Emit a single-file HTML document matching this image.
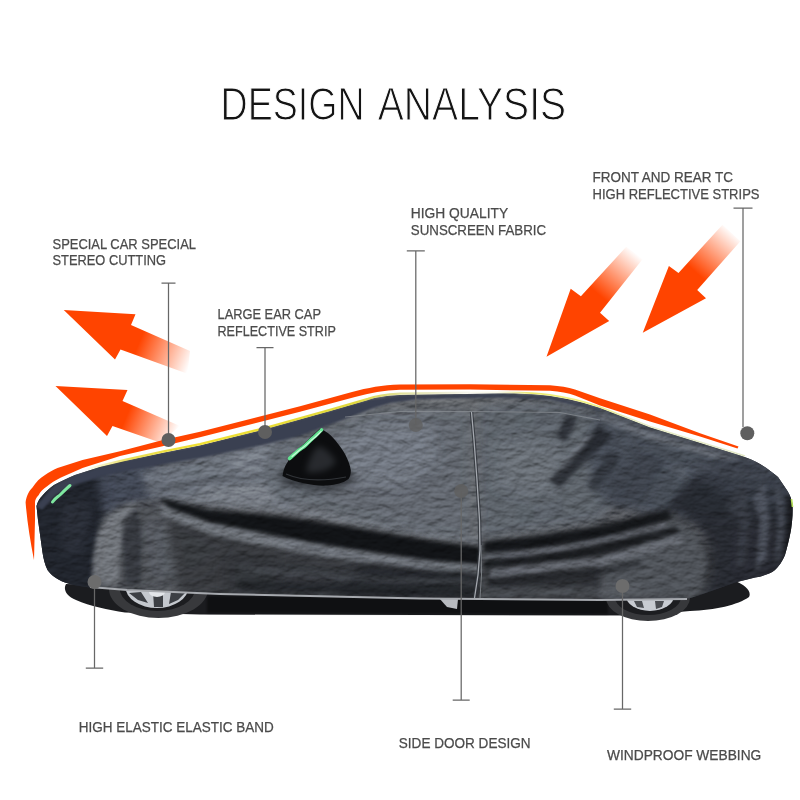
<!DOCTYPE html>
<html lang="en"><head><meta charset="utf-8"><title>Design Analysis</title>
<style>
html,body{margin:0;padding:0;background:#fff;}
body{width:800px;height:800px;overflow:hidden;font-family:"Liberation Sans",sans-serif;}
svg{display:block;}
text{font-family:"Liberation Sans",sans-serif;}
</style></head><body>
<svg width="800" height="800" viewBox="0 0 800 800">
<defs>
<filter id="ident" filterUnits="userSpaceOnUse" x="200" y="70" width="400" height="70"><feOffset dx="0" dy="0"/></filter>
<clipPath id="carclip"><path d="M36.5,506 C38,501 40,498 42.5,495.5 C46,491 50,488 54,485 C61,481 68,478 75,475 L100,467 L125,461 L162.5,453 L200,445.5 L262,430 L330,411 L368,400 C375,397.5 385,396 400,395 L500,393.5 C520,393.5 535,394 550,396 C570,399 585,403 600,408 L650,427.5 L700,443 L740,455.5 C748,458 755,461 760,464 C766,467.5 772,472 778,477 L787.5,491 C790,495 792,500 792.5,505 C793,515 792,522 791,530 C789,540 787,548 785,555 C782,562 779,566 775,570 C770,574 763,576 755,577.5 L735,582.5 L700,595 L687,599 L600,600 L420,598.5 L220,594 L127,590 L90,587.5 C80,586 72,585 65,582.5 C56,579 51,575 47.5,570 C45,565 43.5,559 42.5,552.5 L38,520 Z"/></clipPath>
<filter id="b07" filterUnits="userSpaceOnUse" x="0" y="350" width="800" height="300" color-interpolation-filters="sRGB"><feGaussianBlur stdDeviation="0.7"/></filter>
<filter id="b1" filterUnits="userSpaceOnUse" x="0" y="350" width="800" height="300" color-interpolation-filters="sRGB"><feGaussianBlur stdDeviation="1"/></filter>
<filter id="b2" filterUnits="userSpaceOnUse" x="0" y="350" width="800" height="300" color-interpolation-filters="sRGB"><feGaussianBlur stdDeviation="2"/></filter>
<filter id="b3" filterUnits="userSpaceOnUse" x="0" y="350" width="800" height="300" color-interpolation-filters="sRGB"><feGaussianBlur stdDeviation="3"/></filter>
<filter id="b4" filterUnits="userSpaceOnUse" x="0" y="350" width="800" height="300" color-interpolation-filters="sRGB"><feGaussianBlur stdDeviation="4"/></filter>
<filter id="b6" filterUnits="userSpaceOnUse" x="0" y="350" width="800" height="300" color-interpolation-filters="sRGB"><feGaussianBlur stdDeviation="6"/></filter>
<filter id="b10" filterUnits="userSpaceOnUse" x="0" y="350" width="800" height="300" color-interpolation-filters="sRGB"><feGaussianBlur stdDeviation="10"/></filter>
<filter id="crinkle" filterUnits="userSpaceOnUse" x="30" y="385" width="770" height="220" color-interpolation-filters="sRGB">
<feTurbulence type="fractalNoise" baseFrequency="0.08 0.14" numOctaves="3" seed="7" result="n"/>
<feDiffuseLighting in="n" surfaceScale="1.2" diffuseConstant="1" lighting-color="#ffffff" result="l"><feDistantLight azimuth="250" elevation="60"/></feDiffuseLighting>
<feColorMatrix in="l" type="matrix" values="1.6 0 0 0 -0.87  0 1.6 0 0 -0.87  0 0 1.6 0 -0.87  0 0 0 1 0"/>
</filter>
<linearGradient id="yel" x1="85" y1="0" x2="470" y2="0" gradientUnits="userSpaceOnUse">
<stop offset="0" stop-color="#d9cc2a" stop-opacity="0"/><stop offset="0.12" stop-color="#e3d52a" stop-opacity="0.8"/><stop offset="0.3" stop-color="#f0e030"/><stop offset="0.7" stop-color="#e0d83c"/><stop offset="0.84" stop-color="#c8c850" stop-opacity="0.5"/><stop offset="1" stop-color="#b0b060" stop-opacity="0.1"/></linearGradient>
<linearGradient id="yel2" x1="470" y1="0" x2="750" y2="0" gradientUnits="userSpaceOnUse">
<stop offset="0" stop-color="#d0cc60" stop-opacity="0.1"/><stop offset="0.1" stop-color="#d0cc60" stop-opacity="0.15"/><stop offset="0.22" stop-color="#e9e860" stop-opacity="0.9"/><stop offset="0.45" stop-color="#eef07a" stop-opacity="0.9"/><stop offset="0.6" stop-color="#c8d070" stop-opacity="0.4"/><stop offset="1" stop-color="#b0c060" stop-opacity="0.35"/></linearGradient>
<linearGradient id="a1" x1="64" y1="310" x2="199" y2="366" gradientUnits="userSpaceOnUse"><stop offset="0" stop-color="#ff4400"/><stop offset="0.56" stop-color="#ff4400"/><stop offset="0.94" stop-color="#ff4400" stop-opacity="0"/><stop offset="1" stop-color="#ff4400" stop-opacity="0"/></linearGradient>
<linearGradient id="a2" x1="55" y1="386" x2="183" y2="439" gradientUnits="userSpaceOnUse"><stop offset="0" stop-color="#ff4400"/><stop offset="0.56" stop-color="#ff4400"/><stop offset="0.94" stop-color="#ff4400" stop-opacity="0"/><stop offset="1" stop-color="#ff4400" stop-opacity="0"/></linearGradient>
<linearGradient id="a3" x1="546" y1="357" x2="641" y2="246" gradientUnits="userSpaceOnUse"><stop offset="0" stop-color="#ff4400"/><stop offset="0.56" stop-color="#ff4400"/><stop offset="0.94" stop-color="#ff4400" stop-opacity="0"/><stop offset="1" stop-color="#ff4400" stop-opacity="0"/></linearGradient>
<linearGradient id="a4" x1="643" y1="333" x2="739" y2="226" gradientUnits="userSpaceOnUse"><stop offset="0" stop-color="#ff4400"/><stop offset="0.56" stop-color="#ff4400"/><stop offset="0.94" stop-color="#ff4400" stop-opacity="0"/><stop offset="1" stop-color="#ff4400" stop-opacity="0"/></linearGradient>
<linearGradient id="body" x1="37" y1="0" x2="793" y2="0" gradientUnits="userSpaceOnUse">
 <stop offset="0" stop-color="#1c2028"/>
 <stop offset="0.15" stop-color="#2b3038"/>
 <stop offset="0.3" stop-color="#4a4e55"/>
 <stop offset="0.6" stop-color="#53585f"/>
 <stop offset="0.75" stop-color="#363a42"/>
 <stop offset="0.85" stop-color="#2a2e38"/>
 <stop offset="1" stop-color="#1d2027"/>
</linearGradient>
</defs>
<rect width="800" height="800" fill="#fff"/>
<g fill="#141414" stroke="#fff" stroke-width="1.1" style="paint-order:fill stroke" filter="url(#ident)"><text x="220.6" y="119.7" font-size="46" textLength="144" lengthAdjust="spacingAndGlyphs">DESIGN</text><text x="377.8" y="119.7" font-size="46" textLength="188.3" lengthAdjust="spacingAndGlyphs">ANALYSIS</text></g>
<path fill="url(#a1)" d="M63.75,310 L135.5,314.25 L131,325 L190,351 L187.5,373.75 L120.5,349.5 L115,359.5 Z"/>
<path fill="url(#a2)" d="M55.5,386 L127.5,390 L122.5,401 L180,426 L160,442.5 L112.5,426 L107,436 Z"/>
<path fill="url(#a3)" d="M546.5,356.75 L570.7,288.8 L580.9,296.25 L626.25,246.75 L642.75,259 L600,312.75 L609.2,321 Z"/>
<path fill="url(#a4)" d="M642.75,332.8 L668.9,266 L678.5,272.9 L722.5,224.75 L740.4,241.25 L697.2,290 L706,298.2 Z"/>
<g>
<path d="M66,584 C63,589 66,596 76,600 C90,606 108,610 125,612.5 L200,614.5 L420,615 L640,615.5 L690,611 C715,610 738,605 749,597 C752,591 745,585 735,581 L700,590 L100,585 Z" fill="#1b1c1f" filter="url(#b07)"/>
<path d="M207,596 L420,598 L608,600 L608,614 L420,613.5 L207,613 Z" fill="#0f1012" filter="url(#b1)"/>
<ellipse cx="158.5" cy="589" rx="49.5" ry="29" fill="#38393c"/>
<ellipse cx="157.5" cy="588" rx="38" ry="23" fill="#1c1d20"/>
<ellipse cx="157" cy="587" rx="31.5" ry="21" fill="#c4c8ce"/>
<path d="M129,593 L141,592 L148,603 L138,600 Z M153,592 L163,592 L163,607 L154,607 Z M171,592 L185,593 L178,600 L169,604 Z" fill="#3c3f44"/>
<ellipse cx="157" cy="592" rx="8" ry="5" fill="#e2e5e9"/>
<ellipse cx="648" cy="598" rx="42" ry="23" fill="#37383b"/>
<ellipse cx="648" cy="597" rx="33" ry="18" fill="#1c1d20"/>
<ellipse cx="650" cy="596" rx="24" ry="15" fill="#c8ccd2"/>
<path d="M634,601 L642,601 L644,608 L637,607 Z M655,601 L664,601 L662,607 L656,609 Z" fill="#4a4d52"/>
<path d="M439,598 L458,599 L457,609 L447,607 Z" fill="#b8bbc0"/>
</g>
<path d="M36.5,506 C38,501 40,498 42.5,495.5 C46,491 50,488 54,485 C61,481 68,478 75,475 L100,467 L125,461 L162.5,453 L200,445.5 L262,430 L330,411 L368,400 C375,397.5 385,396 400,395 L500,393.5 C520,393.5 535,394 550,396 C570,399 585,403 600,408 L650,427.5 L700,443 L740,455.5 C748,458 755,461 760,464 C766,467.5 772,472 778,477 L787.5,491 C790,495 792,500 792.5,505 C793,515 792,522 791,530 C789,540 787,548 785,555 C782,562 779,566 775,570 C770,574 763,576 755,577.5 L735,582.5 L700,595 L687,599 L600,600 L420,598.5 L220,594 L127,590 L90,587.5 C80,586 72,585 65,582.5 C56,579 51,575 47.5,570 C45,565 43.5,559 42.5,552.5 L38,520 Z" fill="url(#body)"/>
<g clip-path="url(#carclip)">
<path d="M30,495 L70,478 L100,472 L112,480 L110,500 L100,525 L94,592 L40,592 Z" fill="#20242c" filter="url(#b3)"/>
<path d="M60,505 L88,500 L92,520 L80,555 L62,555 Z" fill="#2e323c" opacity="0.6" filter="url(#b4)"/>
<path d="M96,474 L150,460 L168,478 L155,498 L122,505 L104,516 Z" fill="#414755" opacity="0.95" filter="url(#b4)"/>
<path d="M140,472 L200,456 L290,436 L300,480 L290,510 L200,502 L150,498 Z" fill="#6a707a" opacity="0.95" filter="url(#b3)"/>
<path d="M225,457 L285,444 L292,462 L245,480 Z" fill="#7e848e" opacity="0.6" filter="url(#b3)"/>
<path d="M140,488 L200,480 L270,472 L275,476 L200,485 L145,494 Z" fill="#4a4e56" opacity="0.5" filter="url(#b2)"/>
<path d="M195,490 L270,482 L288,502 L262,510 L210,500 Z" fill="#80858d" opacity="0.7" filter="url(#b3)"/>
<path d="M94,586 C94,545 105,518 125,507 C140,500 160,500 200,508 L280,535 L280,592 Z" fill="#4b4e54" opacity="0.95" filter="url(#b3)"/>
<path d="M93,582 L93,560 L97,535 L109,515 L126,505 L140,503 L131,515 L123,535 L119,560 L119,585 Z" fill="#74787e" opacity="0.85" filter="url(#b2)"/>
<path d="M122,520 L136,508 L142,530 L140,585 L126,585 Z" fill="#26292f" opacity="0.6" filter="url(#b2)"/>
<path d="M142,520 C160,515 180,520 200,530 L230,548 L200,575 L150,580 Z" fill="#5a5e65" opacity="0.6" filter="url(#b4)"/>
<path d="M150,500 L200,503 L280,513 L380,530 L480,545 L480,538 L380,520 L280,502 L200,495 Z" fill="#70757d" opacity="0.8" filter="url(#b2)"/>
<path d="M270,446 L300,436 L370,410 L470,410 L470,540 L400,530 L330,512 L280,502 L262,480 Z" fill="#61676f" opacity="0.94" filter="url(#b4)"/>
<path d="M330,440 L370,420 L430,420 L440,460 L400,490 L350,480 Z" fill="#767c86" opacity="0.7" filter="url(#b6)"/>
<path d="M165,507 L225,512 L280,516 L330,525 L380,533 L430,542 L480,548 L480,600 L180,596 L170,540 Z" fill="#35373b" opacity="0.9" filter="url(#b4)"/>
<path d="M360,560 L480,568 L480,600 L340,598 Z" fill="#1b1d21" opacity="0.8" filter="url(#b6)"/>
<path d="M160,498 L210,511 L260,514.5 L310,521 L360,529 L430,541 L480,547 L480,565 L430,561 L360,551 L310,543 L260,533 L210,523 L170,510 Z" fill="#111316" filter="url(#b2)"/>
<path d="M160,505 L210,523 L260,533 L310,543 L360,551 L430,561 L480,565 L480,573 L430,570 L360,562 L310,554 L260,545 L210,534 L162,516 Z" fill="#73787f" opacity="0.9" filter="url(#b2)"/>
<path d="M225,552 L280,560 L380,570 L480,577 L480,600 L225,596 Z" fill="#2c2f34" opacity="0.5" filter="url(#b4)"/>
<path d="M240,566 L380,577 L475,581 L475,585 L380,582 L240,572 Z" fill="#45494f" opacity="0.7" filter="url(#b2)"/>
<path d="M240,580 L475,589 L475,596 L240,591 Z" fill="#1e2125" opacity="0.7" filter="url(#b2)"/>
<path d="M478,405 L560,400 L620,420 L640,470 L600,520 L480,540 Z" fill="#5b6169" opacity="0.94" filter="url(#b4)"/>
<path d="M490,440 L530,435 L560,445 L575,480 L540,500 L495,490 Z" fill="#6e747c" opacity="0.6" filter="url(#b6)"/>
<path d="M600,405 L660,428 L740,452 L800,470 L800,520 L700,520 L650,515 L600,500 L585,450 Z" fill="#444a54" opacity="0.92" filter="url(#b4)"/>
<path d="M598,426 L614,436 L585,462 L560,488 L549,481 L575,452 Z" fill="#22252b" opacity="0.85" filter="url(#b2)"/>
<path d="M566,414 L578,418 L566,442 L556,437 Z" fill="#262930" opacity="0.8" filter="url(#b2)"/>
<path d="M610,450 L622,458 L596,492 L586,486 Z" fill="#2a2e35" opacity="0.7" filter="url(#b2)"/>
<path d="M580,440 L596,432 L570,462 L556,476 Z" fill="#8a8f98" opacity="0.5" filter="url(#b2)"/>
<path d="M610,480 L640,450 L665,460 L640,500 L612,508 Z" fill="#343841" opacity="0.5" filter="url(#b4)"/>
<path d="M600,412 L650,432 L700,447 L740,459 L738,464 L700,454 L650,440 L600,420 Z" fill="#777c85" opacity="0.6" filter="url(#b2)"/>
<path d="M660,462 L720,468 L740,478 L680,480 Z" fill="#5a606a" opacity="0.5" filter="url(#b3)"/>
<path d="M484,542 L600,528 L672,508 L720,560 L700,600 L484,602 Z" fill="#2b2d31" opacity="0.95" filter="url(#b3)"/>
<path d="M600,560 L640,545 L668,514 C690,520 704,538 708,560 L704,590 L690,600 L600,600 Z" fill="#51555b" opacity="0.92" filter="url(#b3)"/>
<path d="M484,542 C540,538 600,528 668,510 L672,518 C610,539 540,549 484,553 Z" fill="#121417" opacity="0.95" filter="url(#b2)"/>
<path d="M484,554 C540,551 600,541 664,522 L668,527 C610,547 540,557 484,560 Z" fill="#666a72" opacity="0.9" filter="url(#b2)"/>
<path d="M484,561 C540,558 600,546 676,526 L680,533 C610,555 540,565 484,568 Z" fill="#17191c" opacity="0.9" filter="url(#b2)"/>
<path d="M490,569 L600,557 L680,535 L685,542 L600,566 L490,578 Z" fill="#696d75" opacity="0.85" filter="url(#b2)"/>
<path d="M490,580 L600,569 L640,560 L642,565 L600,575 L490,586 Z" fill="#1d1f23" opacity="0.7" filter="url(#b2)"/>
<path d="M484,588 L640,586 L640,596 L484,598 Z" fill="#55595f" opacity="0.6" filter="url(#b2)"/>
<path d="M666,508 C692,514 710,534 714,560 C714,575 708,588 700,598 L800,598 L800,500 L760,470 L720,462 L690,480 Z" fill="#25282f" opacity="0.92" filter="url(#b3)"/>
<path d="M690,470 L740,458 L800,480 L800,520 L760,500 L720,492 Z" fill="#383d47" opacity="0.85" filter="url(#b4)"/>
<path d="M752,500 L764,480 L770,520 L766,560 L756,570 L760,520 Z" fill="#505560" opacity="0.8" filter="url(#b2)"/>
<path d="M774,484 L781,490 L785,520 L781,556 L775,562 L778,520 Z" fill="#464b55" opacity="0.8" filter="url(#b2)"/>
<path d="M786,495 L800,500 L800,560 L784,560 L788,525 Z" fill="#121316" opacity="0.8" filter="url(#b2)"/>
<path d="M725,505 L746,480 L750,520 L744,565 L736,570 L740,520 Z" fill="#3c4049" opacity="0.7" filter="url(#b3)"/>
<path d="M690,460 L770,474 L772,480 L690,470 Z" fill="#454a54" opacity="0.7" filter="url(#b3)"/>
<rect x="30" y="385" width="770" height="220" filter="url(#crinkle)" style="mix-blend-mode:overlay" opacity="0.4"/>
<path d="M36,506 L54,485 L75,475 L100,467 L125,461 L162.5,453 L200,445.5 L262,430 L330,411 L368,400 L400,395 L500,393.5 L550,396 L600,408.5 L600,411 L550,399.5 L500,397.5 L420,399 L390,403 L372,408.5 L340,421 L300,436 L262,445 L200,458 L162.5,464.5 L125,471 L100,477 L75,485 L56,495 L42,510 Z" fill="#3a4051" filter="url(#b1)"/>
</g>
<path d="M278,480 C290,486 310,492 330,490 C340,489 350,485 356,478 L350,470 L285,468 Z" fill="#1a1c20" opacity="0.55" filter="url(#b3)"/>
<path d="M320,428.5 C326,431 331,435 335,440 C340,446 343,450 345.5,455 C348,460 350,465 350.8,470 C351,474 350,477 348.5,479 C343,483 336,485 327.5,485.5 C320,486 312,485 305,483.5 C296,481.5 288,479 282.5,476 C283,472 284,469 285.5,465.5 L290,458 C294,453 299,448 305,443 C310,438 315,433 320,428.5 Z" fill="#0c0d0f"/>
<path d="M318,446 C325,448 332,454 336,462 C330,470 318,474 306,472 C308,462 312,452 318,446 Z" fill="#34373c" opacity="0.7" filter="url(#b3)"/>
<path d="M286,474 C300,480 320,482 346,477" fill="none" stroke="#3a3d42" stroke-width="1.2" opacity="0.8"/>
<path d="M289.5,458.5 C294,455 297,451 302,448 C306,446 309,441 313,438 C316,436 318,433 321.5,430" fill="none" stroke="#63e592" stroke-width="3.6" stroke-linecap="round"/>
<path d="M292,456.5 C296,453.5 299,450 303,447.5 C307,445 310,441 314,438 C317,436 319,433.5 321,431.5" fill="none" stroke="#c9f7d8" stroke-width="1.2" stroke-linecap="round"/>
<path d="M52.5,502 C55,498 58,497 61,494 C64,491 67,488 70,485.5" fill="none" stroke="#7fe8a0" stroke-width="3" stroke-linecap="round"/>
<path d="M791.5,499 L792.5,507" fill="none" stroke="#b5e05a" stroke-width="1.6"/>
<path d="M471.5,412 L474,440 L477,480 L479.5,520 L480,550 L478,575 L474.5,598" fill="none" stroke="#30333a" stroke-width="3.5" opacity="0.8"/>
<path d="M471.5,412 L474,440 L477,480 L479.5,520 L480,550 L478,575 L474.5,598" fill="none" stroke="#a4a8ae" stroke-width="1.3"/>
<path d="M481,545 L481.5,575 L480,598" fill="none" stroke="#8a8e94" stroke-width="1" opacity="0.8"/>
<path d="M345,417 L400,411.5 L471,411.5 L560,412.5 L600,420" fill="none" stroke="#8a8e94" stroke-width="1" opacity="0.7"/>
<path d="M90,587 L127,590 L220,594 L420,598.5 L600,600 L687,599" fill="none" stroke="#a6a9ae" stroke-width="1.9"/>
<path d="M85,470 L100,465.8 L125,459.8 L162.5,451.6 L200,444.1 L262,428.8 L330,409.8 L368,398.8 C375,396.2 385,394.5 400,393.6 L470,392.6" fill="none" stroke="url(#yel)" stroke-width="2.3"/>
<path d="M470,392.6 L500,392.3 C520,392.3 535,392.8 550,394.8 C570,397.8 585,401.5 600,407 L650,426.5 L700,442 L745,456" fill="none" stroke="url(#yel2)" stroke-width="1.8"/>
<path fill="#ff4400" d="M34,560 C30,540 27,520 25.6,502.5 C26,498 28,492 32.5,487.5 C36,482 40,478 45,475 C49,472 53,470 57.5,468 L82.5,460 L120,451.2 L162,440.3 L200,431.8 L300,406.3 L352,392 C368,387.5 382,385 400,384.4 L470,384.2 L550,385.2 C560,386 568,387.3 575,389.5 L600,398.3 L650,414.6 L700,433.2 L738.5,446.6 L737.5,448.4 L700,436.6
 L650,421.4 L600,405.6 L575,395.6 C568,393 560,391.6 550,390.8 L470,389.6 L400,389.8 C384,390.4 370,393 355,397 L300,411.8 L200,437.3 L162.5,446.2 L120,456 L82.5,468 L61,477.5 C56,480 51,483 47.5,486 C43,489 40,492 38.75,495 C36,498 35,500 35,502.5 L35,520 Z"/>
<path d="M161.5,283 H175.5 M168.5,283 V440" stroke="#676767" stroke-width="1.25" fill="none"/>
<circle cx="168.5" cy="440" r="7" fill="#5f5f5f" opacity="1"/>
<path d="M256.5,347.5 H273.5 M265,347.5 V432" stroke="#676767" stroke-width="1.25" fill="none"/>
<circle cx="265" cy="432" r="7" fill="#5f5f5f" opacity="1"/>
<path d="M406.8,250.8 H424.8 M415.8,250.8 V425" stroke="#676767" stroke-width="1.25" fill="none"/>
<circle cx="415.8" cy="425" r="7" fill="#5f5f5f" opacity="0.8"/>
<path d="M733.5,208 H752.5 M743,208 V427.2" stroke="#676767" stroke-width="1.25" fill="none"/>
<circle cx="747.3" cy="433.2" r="7" fill="#5f5f5f" opacity="1"/>
<path d="M85.8,668 H103.2 M94.5,668 V582" stroke="#676767" stroke-width="1.25" fill="none"/>
<circle cx="94.5" cy="582" r="7" fill="#6c6c6c" opacity="1"/>
<path d="M452.7,700 H469.7 M461.2,700 V491" stroke="#676767" stroke-width="1.25" fill="none"/>
<circle cx="461.2" cy="491" r="7" fill="#5f5f5f" opacity="0.85"/>
<path d="M613.8,709 H631.2 M622.5,709 V586" stroke="#676767" stroke-width="1.25" fill="none"/>
<circle cx="622.5" cy="586" r="7" fill="#6c6c6c" opacity="1"/>
<g fill="#4b4b4b" stroke="#4b4b4b" stroke-width="0.25" font-size="14.5" style="opacity:0.999">
<text x="52.5" y="249.0" textLength="143.5" lengthAdjust="spacingAndGlyphs">SPECIAL CAR SPECIAL</text>
<text x="52.5" y="265.0" textLength="113.5" lengthAdjust="spacingAndGlyphs">STEREO CUTTING</text>
<text x="217.5" y="318.8" textLength="103.5" lengthAdjust="spacingAndGlyphs">LARGE EAR CAP</text>
<text x="217.5" y="335.8" textLength="118.3" lengthAdjust="spacingAndGlyphs">REFLECTIVE STRIP</text>
<text x="410.8" y="217.7" textLength="97.3" lengthAdjust="spacingAndGlyphs">HIGH QUALITY</text>
<text x="410.8" y="234.8" textLength="135.3" lengthAdjust="spacingAndGlyphs">SUNSCREEN FABRIC</text>
<text x="592.5" y="182.1" textLength="140.5" lengthAdjust="spacingAndGlyphs">FRONT AND REAR TC</text>
<text x="592.5" y="199.0" textLength="167" lengthAdjust="spacingAndGlyphs">HIGH REFLECTIVE STRIPS</text>
<text x="78.8" y="732.0" textLength="195" lengthAdjust="spacingAndGlyphs">HIGH ELASTIC ELASTIC BAND</text>
<text x="398.8" y="747.5" textLength="131.8" lengthAdjust="spacingAndGlyphs">SIDE DOOR DESIGN</text>
<text x="607" y="760.3" textLength="154.3" lengthAdjust="spacingAndGlyphs">WINDPROOF WEBBING</text>
</g>
</svg>
</body></html>
